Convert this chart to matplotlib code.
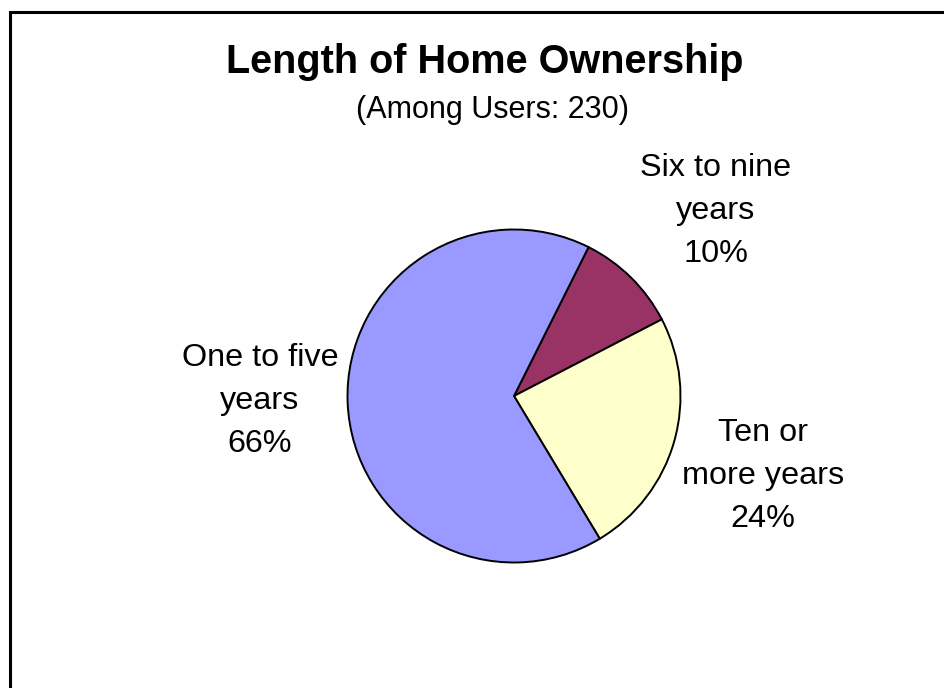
import matplotlib.pyplot as plt
from matplotlib.patches import Rectangle

# slice data, clockwise from the top-right edge
labels = ["Six to nine\nyears", "Ten or\nmore years", "One to five\nyears"]
shares = [10, 24, 66]
colors = ["#993366", "#FFFFCC", "#9999FF"]

W, H = 944, 688
fig = plt.figure(figsize=(W / 100, H / 100), dpi=100)
ax = fig.add_axes([0, 0, 1, 1])

plt.rcParams["font.family"] = ["Liberation Sans", "DejaVu Sans"]

cx, cy, r = 514, H - 396, 166.5
ax.pie(shares, colors=colors, startangle=63.4, counterclock=False,
       center=(cx, cy), radius=r, frame=True,
       wedgeprops=dict(edgecolor="black", linewidth=1.4))
ax.set_xlim(0, W)
ax.set_ylim(0, H)
ax.set_aspect("auto")
ax.axis("off")

# label text positions (pixel coords, y measured from top)
label_pos = [(716, 211), (763, 476), (260, 401)]
for lab, pct, (px, py) in zip(labels, shares, label_pos):
    ax.text(px, H - py, "%s\n%d%%" % (lab, pct), ha="center", va="center",
            fontsize=23.3, linespacing=1.55, family=["Liberation Sans", "DejaVu Sans"])

ax.text(485, H - 62, "Length of Home Ownership", ha="center", va="center",
        fontsize=28.5, fontweight="bold", family=["Liberation Sans", "DejaVu Sans"])
ax.text(493, H - 110, "(Among Users: 230)", ha="center", va="center",
        fontsize=22, family=["Liberation Sans", "DejaVu Sans"])

# chart area border, running off the right and bottom edges
ax.add_patch(Rectangle((9.5, -20), 1000, H - 11.5 + 20, fill=False,
                       edgecolor="black", linewidth=2.2, clip_on=False))

fig.savefig("out.png", dpi=100)
